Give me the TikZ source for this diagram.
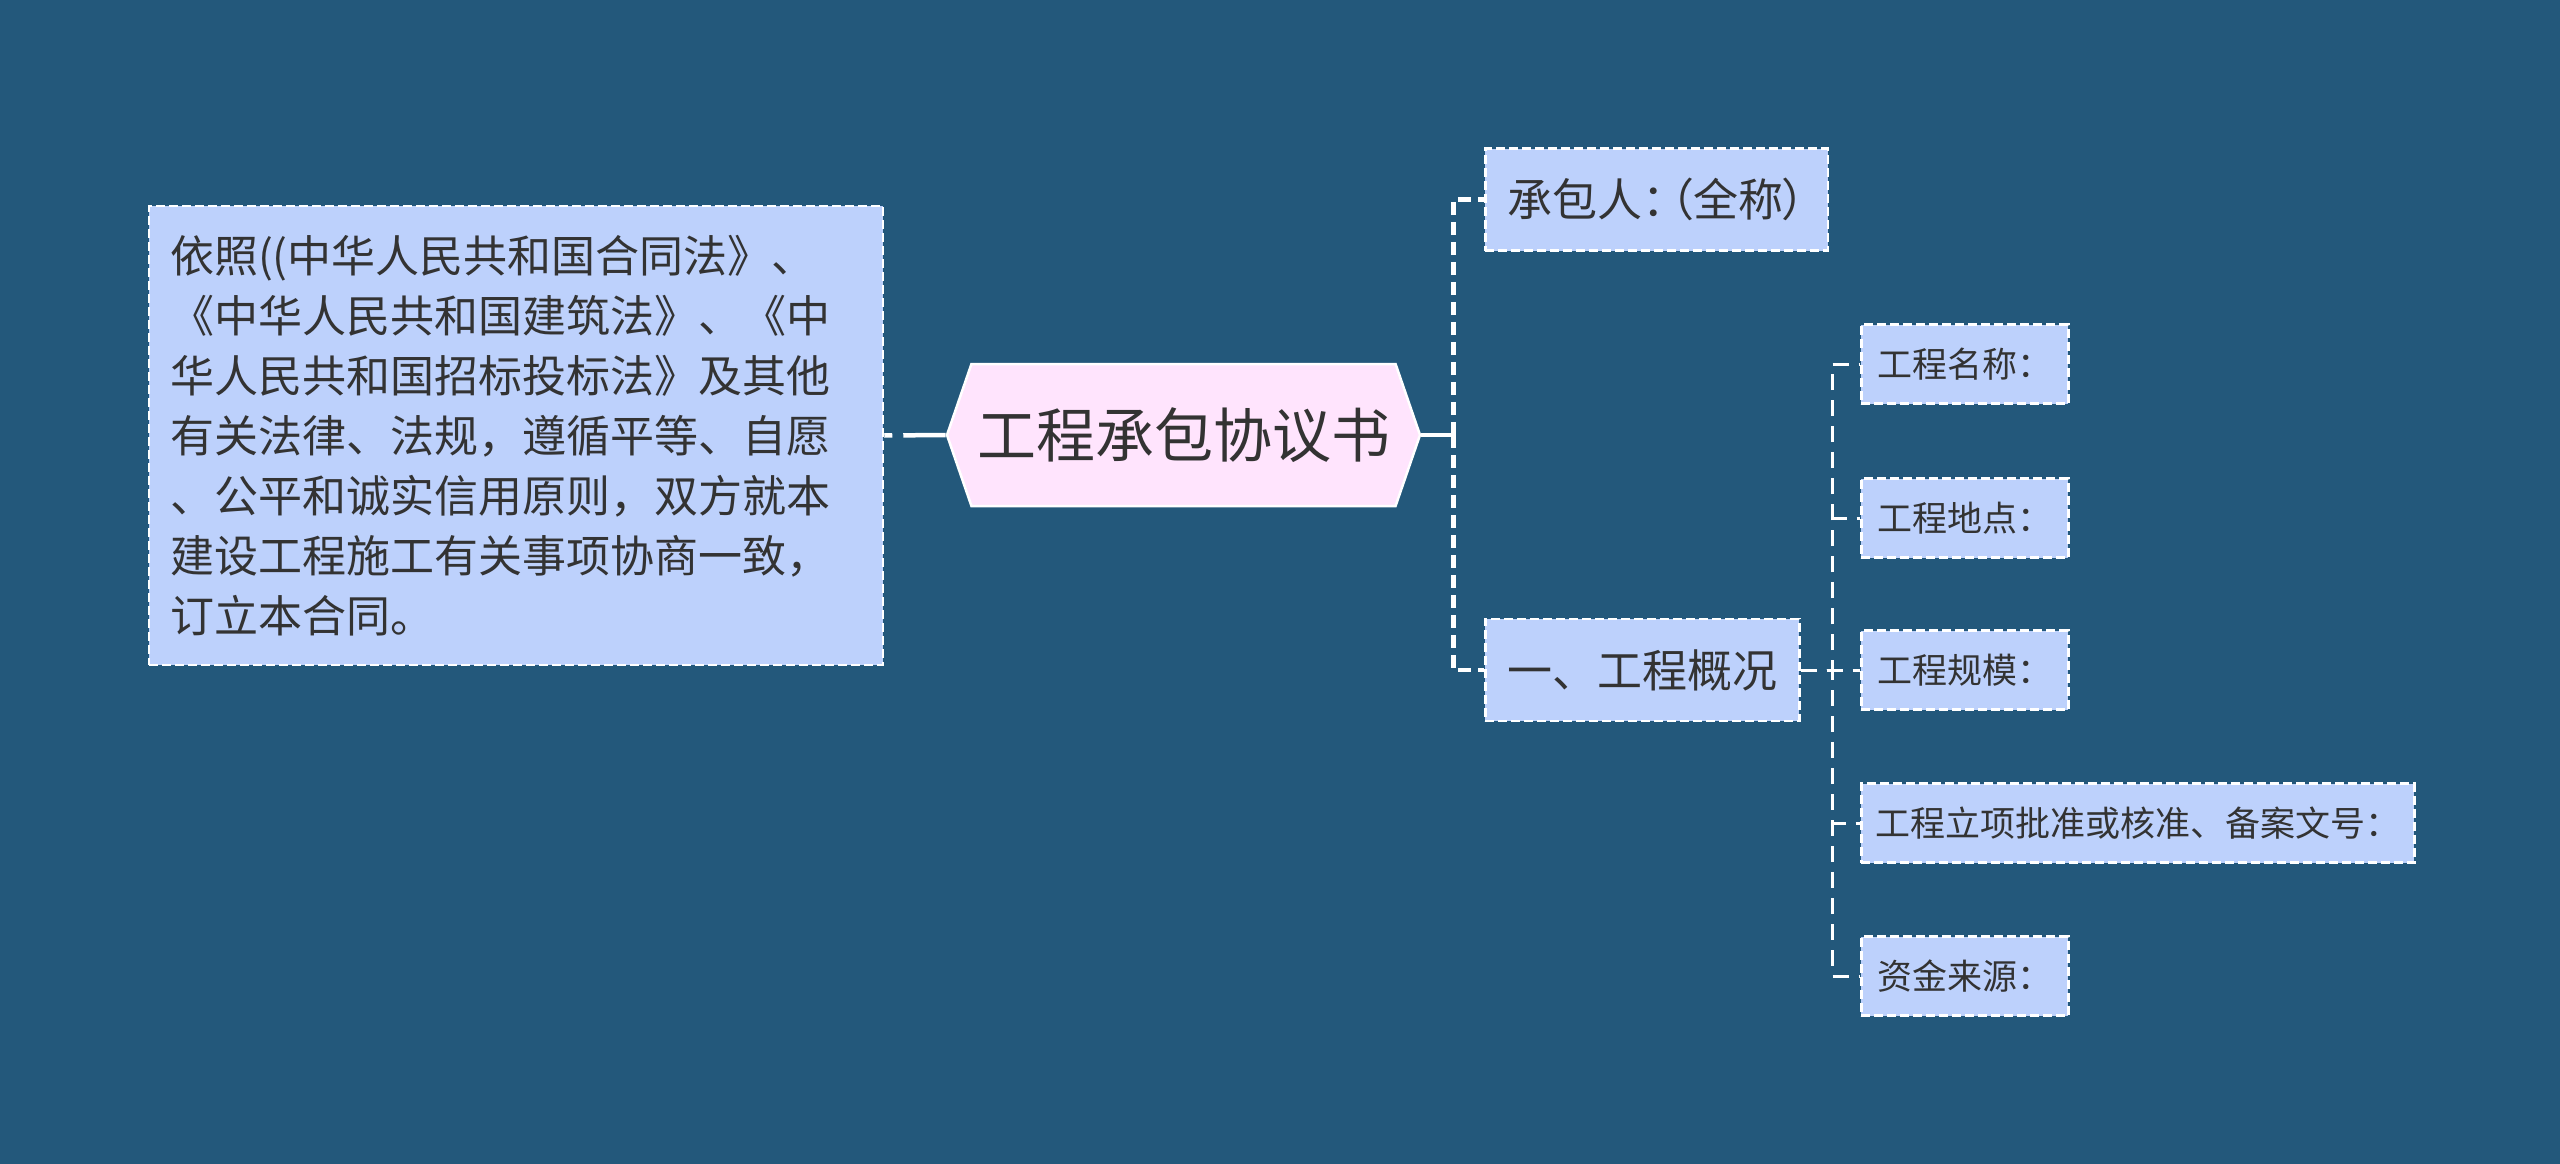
\documentclass[tikz,border=0pt]{standalone}
\usepackage{fontspec}
\setmainfont{Noto Sans CJK SC}
\newfontfamily\paltfont{Noto Sans CJK SC}[RawFeature=+palt]
\usepackage{tikz}
\usetikzlibrary{positioning,shapes.symbols,calc}
\usepackage{xcolor}
\definecolor{mapbg}{RGB}{35,88,123}
\definecolor{mapbox}{RGB}{189,209,252}
\definecolor{mappink}{RGB}{255,228,253}
\definecolor{mapink}{RGB}{51,51,51}
\tikzset{
    mapnode/.style={draw=white, line width=2.5pt, dash pattern=on 9pt off 4pt, fill=mapbox, text=mapink},
    maplaw/.style={mapnode, align=left, font=\fontsize{44}{60}\selectfont, text width=692pt, inner xsep=21pt, minimum height=459pt},
    maptitle/.style={signal, signal to=east and west, signal pointer angle=142, draw=white, line width=2.5pt, fill=mappink, text=mapink, font=\fontsize{59}{70}\selectfont, minimum width=473pt, minimum height=142pt, inner sep=0pt},
    maptopic/.style={mapnode, anchor=west, font=\fontsize{45}{52}\selectfont, inner xsep=22pt, minimum height=102pt},
    mapitem/.style={mapnode, anchor=west, font=\fontsize{35}{40}\selectfont, inner xsep=14pt, minimum width=207pt, minimum height=79pt},
    maptrunk/.style={draw=white, line width=4.5pt},
    maptrunkdash/.style={maptrunk, dash pattern=on 13pt off 7pt},
    maptwig/.style={draw=white, line width=3pt, dash pattern=on 16pt off 10pt}
}
\begin{document}
\begin{tikzpicture}[x=1pt, y=-1pt]
        \fill[mapbg] (0,0) rectangle (2560,1164);
        \useasboundingbox (0,0) rectangle (2560,1164);

        \node[maplaw] (law) at (516,435.5) {依照((中华人民共和国合同法》、\\《中华人民共和国建筑法》、《中\\华人民共和国招标投标法》及其他\\有关法律、法规，遵循平等、自愿\\、公平和诚实信用原则，双方就本\\建设工程施工有关事项协商一致，\\订立本合同。};
        \node[maptitle] (title) at (1183.5,435) {工程承包协议书};
        \node[maptopic, minimum width=340pt] (party) at (1484,199.5) {\paltfont 承包人：\hspace{6pt}（全称）};
        \node[maptopic] (overview) at (1484,670) {一、工程概况};

        \node[mapitem] (name) at (1860,364) {工程名称：};
        \node[mapitem] (site) at (1860,518) {工程地点：};
        \node[mapitem] (size) at (1860,670) {工程规模：};
        \node[mapitem, minimum width=551pt] (approval) at (1860,823) {工程立项批准或核准、备案文号：};
        \node[mapitem] (funds) at (1860,976) {资金来源：};

        \coordinate[right=32pt of title.east] (fork);
        \coordinate[right=32pt of overview.east] (fork2);

        \draw[maptrunk, dash pattern=on 8pt off 11pt on 60pt off 0pt] (law.east) -- (title.west);
        \draw[maptrunk] (title.east) -- (fork);
        \draw[maptrunkdash] (fork) |- (party.west);
        \draw[maptrunkdash] (fork) |- (overview.west);

        \draw[maptwig] (overview.east) -- (fork2) |- (name.west);
        \draw[maptwig] (overview.east) -- (fork2) |- (site.west);
        \draw[maptwig] (overview.east) -- (size.west);
        \draw[maptwig] (overview.east) -- (fork2) |- (approval.west);
        \draw[maptwig] (overview.east) -- (fork2) |- (funds.west);
    \end{tikzpicture}
\end{document}
